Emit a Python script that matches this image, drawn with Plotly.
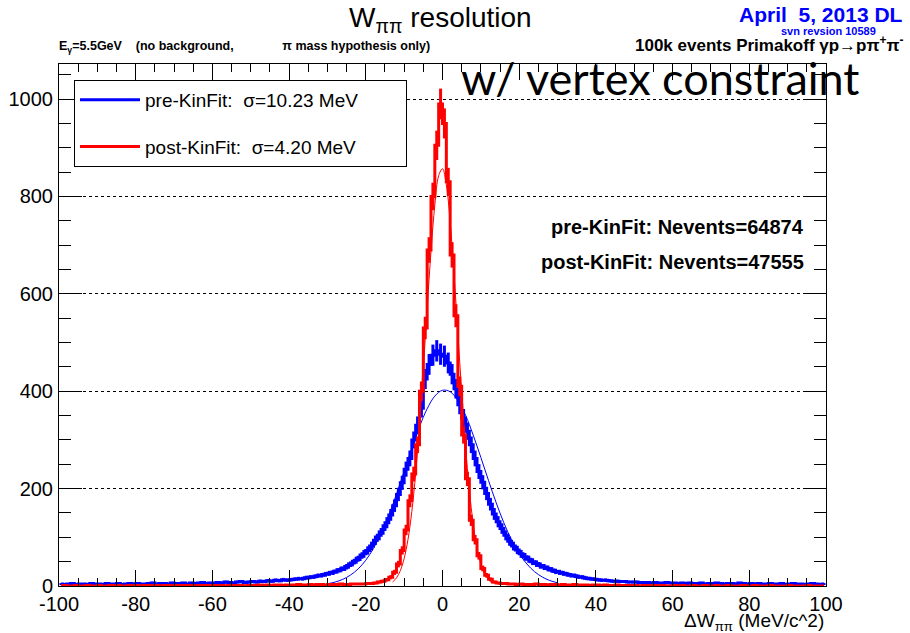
import numpy as np
import plotly.graph_objects as go

# ---------------- data ----------------
# histogram bin centres, 1 MeV bins from -100 to 100
bin_centers = np.arange(-99.5, 100.0, 1.0)

pre_counts = (
    # -99.5 .. -60.5
    [4, 3, 4, 5, 3, 4, 4, 3, 5, 4, 4, 3, 5, 4, 4, 5, 3, 4, 5, 4,
     5, 4, 4, 5, 6, 4, 5, 5, 4, 6, 5, 5, 6, 4, 6, 5, 6, 7, 5, 6]
    # -59.5 .. -40.5
    + [6, 7, 6, 8, 7, 6, 8, 9, 7, 8, 9, 8, 10, 9, 11, 10, 12, 11, 13, 12]
    # -39.5 .. -20.5
    + [13, 14, 15, 15, 17, 18, 19, 21, 22, 24, 26, 28, 31, 34, 37, 42, 47, 53, 59, 66]
    # -19.5 .. -0.5
    + [73, 82, 94, 104, 116, 130, 146, 165, 188, 212,
       240, 262, 300, 330, 365, 425, 455, 474, 483, 476]
    # 0.5 .. 19.5
    + [472, 458, 435, 405, 372, 345, 318, 290, 262, 235,
       213, 190, 168, 148, 132, 118, 104, 92, 82, 74]
    # 20.5 .. 39.5
    + [66, 60, 55, 50, 46, 42, 39, 36, 33, 30, 28, 26, 24, 22, 21, 19, 18, 16, 15, 14]
    # 40.5 .. 59.5
    + [13, 12, 12, 11, 10, 10, 9, 9, 8, 8, 8, 7, 7, 7, 6, 7, 6, 6, 7, 6]
    # 60.5 .. 99.5
    + [6, 5, 6, 5, 6, 5, 5, 6, 4, 5, 5, 6, 5, 4, 5, 5, 4, 6, 5, 4,
       5, 4, 5, 4, 4, 5, 4, 4, 5, 3, 4, 5, 4, 4, 3, 4, 5, 4, 3, 4]
)

post_counts = (
    # -99.5 .. -50.5
    [0, 1, 0, 0, 1, 0, 0, 1, 0, 0, 1, 0, 0, 1, 0, 1, 0, 0, 1, 0,
     1, 0, 1, 1, 0, 1, 0, 1, 1, 0, 1, 1, 0, 1, 1, 0, 1, 1, 1, 0,
     1, 1, 1, 0, 1, 1, 1, 1, 0, 1]
    # -49.5 .. -20.5
    + [1, 1, 2, 1, 2, 1, 2, 2, 1, 2, 2, 2, 3, 2, 2, 3, 2, 3, 3, 2,
       3, 3, 3, 4, 3, 3, 4, 4, 4, 4]
    # -19.5 .. -0.5
    + [5, 5, 6, 8, 10, 13, 18, 28, 45, 73,
       115, 175, 230, 290, 400, 530, 690, 800, 905, 990]
    # 0.5 .. 19.5
    + [950, 830, 680, 555, 410, 310, 220, 135, 95, 62,
       36, 22, 14, 8, 6, 5, 5, 4, 4, 3]
    # 20.5 .. 49.5
    + [4, 3, 3, 3, 4, 3, 3, 2, 3, 3, 2, 3, 2, 2, 3, 2, 2, 2, 1, 2,
       2, 1, 2, 1, 1, 2, 1, 1, 1, 1]
    # 50.5 .. 99.5
    + [1, 0, 1, 1, 0, 1, 0, 1, 0, 0, 1, 0, 1, 0, 0, 1, 0, 0, 1, 0,
       0, 1, 0, 0, 1, 0, 0, 0, 1, 0, 0, 1, 0, 0, 0, 1, 0, 0, 0, 0,
       1, 0, 0, 0, 0, 1, 0, 0, 0, 0]
)

# gaussian fit curves
pre_fit_x = [-30, -28, -26, -24, -22, -20, -18, -16, -14, -12, -10, -8, -6, -4, -2, 0,
             2, 4, 6, 8, 10, 12, 14, 16, 18, 20, 22, 24, 26, 28, 30]
pre_fit_y = [4.6, 8.1, 13.7, 22.4, 35.1, 53.0, 77.2, 108, 145.5, 188.7, 235.5, 283, 327, 364, 390, 402,
             399, 381, 351, 310, 264, 216.6, 170.9, 129.8, 94.8, 66.7, 45.2, 29.5, 18.5, 11.2, 6.5]

post_fit_x = [-13, -12, -11, -10, -9, -8, -7, -6, -5, -4, -3, -2, -1, 0,
              1, 2, 3, 4, 5, 6, 7, 8, 9, 10, 11, 12, 13]
post_fit_y = [8.3, 16.6, 31.5, 56.4, 95.6, 153, 231, 330.7, 446.6, 569.8, 687, 782.7, 842.6, 857,
              823.7, 748, 641.8, 520.4, 398.7, 288.6, 197.4, 127.6, 77.9, 44.9, 24.5, 12.6, 6.1]

pre_label = "pre-KinFit:  σ=10.23 MeV"
post_label = "post-KinFit:  σ=4.20 MeV"
pre_nevents = "pre-KinFit: Nevents=64874"
post_nevents = "post-KinFit: Nevents=47555"

x_ticks = [-100, -80, -60, -40, -20, 0, 20, 40, 60, 80, 100]
x_tick_text = ["-100", "-80", "-60", "-40", "-20", "0", "20", "40", "60", "80", "100"]
y_ticks = [0, 200, 400, 600, 800, 1000]
y_tick_text = ["0", "200", "400", "600", "800", "1000"]

BLUE = "#0000ff"
RED = "#ff0000"
FONT = "Liberation Sans, Arial, Helvetica, sans-serif"
NB = "\u00a0"

# ---------------- geometry ----------------
W, H = 910, 633
PX0, PX1, PY0, PY1 = 59, 826, 64, 586          # plot frame in window pixels
L, R, T, B = PX0, W - PX1, PY0, H - PY1
pw, ph = W - L - R, H - T - B


def paper_x(xw):
    return (xw - PX0) / pw


def paper_y(yw):
    return (PY1 - yw) / ph


# ---------------- figure ----------------
fig = go.Figure()

pre_err = np.sqrt(np.array(pre_counts, dtype=float))
post_err = np.sqrt(np.array(post_counts, dtype=float))

fig.add_trace(go.Scatter(
    x=bin_centers, y=pre_counts, mode="lines", name=pre_label + NB * 8,
    line=dict(color=BLUE, width=3, shape="hvh"),
    error_y=dict(type="data", array=pre_err, visible=True, color=BLUE, thickness=3, width=0),
    legendgroup="pre",
))
fig.add_trace(go.Scatter(
    x=pre_fit_x, y=pre_fit_y, mode="lines", showlegend=False,
    line=dict(color=BLUE, width=1, shape="spline"), legendgroup="pre",
))
fig.add_trace(go.Scatter(
    x=bin_centers, y=post_counts, mode="lines", name=post_label + NB * 8,
    line=dict(color=RED, width=3, shape="hvh"),
    error_y=dict(type="data", array=post_err, visible=True, color=RED, thickness=3, width=0),
    legendgroup="post",
))
fig.add_trace(go.Scatter(
    x=post_fit_x, y=post_fit_y, mode="lines", showlegend=False,
    line=dict(color=RED, width=1, shape="spline"), legendgroup="post",
))

axis_common = dict(
    showline=True, linecolor="black", linewidth=1, mirror="ticks",
    ticks="inside", tickcolor="black", tickwidth=1,
    tickfont=dict(family=FONT, size=20, color="black"),
    zeroline=False, automargin=False,
)

fig.update_xaxes(
    range=[-100, 100], tickvals=x_ticks, ticktext=x_tick_text, ticklen=16,
    showgrid=False,
    minor=dict(ticks="inside", ticklen=8, dtick=5, tickcolor="black", showgrid=False),
    **axis_common,
)
fig.update_yaxes(
    range=[0, 1072], tickvals=y_ticks, ticktext=y_tick_text, ticklen=23,
    ticklabelstandoff=1,
    showgrid=True, gridcolor="black", griddash="dot", gridwidth=1,
    minor=dict(ticks="inside", ticklen=12, dtick=50, tickcolor="black", showgrid=False),
    **axis_common,
)

# (text, window x, window y, anchor, font overrides)
annotations = [
    ("W<sub>ππ</sub> resolution", 440, 20, "center", dict(size=28)),
    ("<b>April" + NB * 2 + "5, 2013 DL</b>", 905, 14, "right", dict(size=21, color=BLUE)),
    ("<b>svn revsion 10589</b>", 878, 31, "right", dict(size=11, color=BLUE)),
    ("<b>100k events Primakoff γp→pπ<sup>+</sup>π<sup>-</sup></b>", 905, 44, "right", dict(size=17)),
    ("<b>E<sub>γ</sub>=5.5GeV" + NB * 4 + "(no background," + NB * 14 + "π mass hypothesis only)</b>",
     57, 47, "left", dict(size=12.5)),
    ("w/ vertex constraint", 459, 78, "left", dict(size=45, family="Lato, Open Sans, sans-serif")),
    ("<b>" + pre_nevents + "</b>", 806, 227, "right", dict(size=20)),
    ("<b>" + post_nevents + "</b>", 806, 262, "right", dict(size=20)),
    ("ΔW<sub>ππ</sub> (MeV/c^2)", 826, 622, "right", dict(size=19)),
]

ann_objs = []
for text, xw, yw, anchor, font in annotations:
    f = dict(family=FONT, color="black")
    f.update(font)
    ann_objs.append(dict(
        text=text, xref="paper", yref="paper",
        x=paper_x(xw), y=paper_y(yw),
        xanchor=anchor, yanchor="middle",
        showarrow=False, font=f,
    ))

fig.update_layout(
    width=W, height=H,
    margin=dict(l=L, r=R, t=T, b=B, pad=0, autoexpand=False),
    paper_bgcolor="white", plot_bgcolor="white",
    font=dict(family=FONT, color="black"),
    annotations=ann_objs,
    showlegend=True,
    legend=dict(
        x=paper_x(74), y=paper_y(80), xanchor="left", yanchor="top",
        bgcolor="white", bordercolor="black", borderwidth=1,
        font=dict(family=FONT, size=19, color="black"),
        itemwidth=60, tracegroupgap=19,
        itemclick=False, itemdoubleclick=False,
    ),
)

fig.write_html(
    "out.html",
    config={"displayModeBar": False, "staticPlot": True},
    post_script="document.body.style.margin='0px';document.body.style.padding='0px';"
                "document.body.style.overflow='hidden';",
)
